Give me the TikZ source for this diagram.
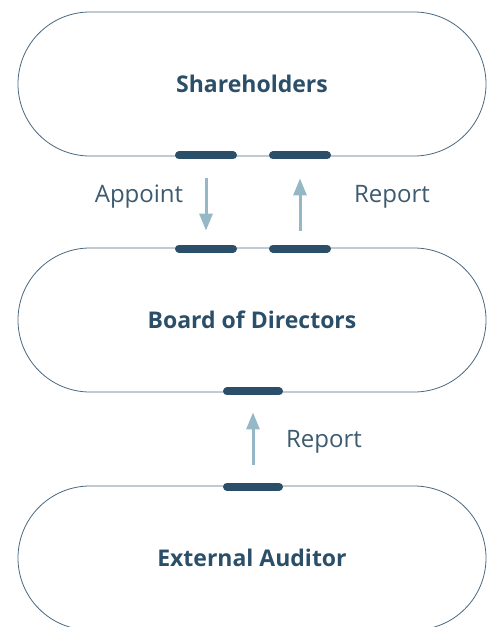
\documentclass[tikz,border=0pt]{standalone}
\usepackage{fontspec}
\setmainfont{Open Sans}
\usetikzlibrary{arrows.meta}
\definecolor{ink}{HTML}{2B4F68}
\definecolor{rim}{HTML}{4A6880}
\definecolor{flow}{HTML}{94B8C6}
\definecolor{labelc}{HTML}{3D5A6E}
\tikzset{
  x=1pt, y=-1pt,
  party/.style={draw=rim, line width=0.8pt, rounded corners=72pt,
    minimum width=468pt, minimum height=144pt, inner sep=0pt,
    font=\fontsize{23}{27}\selectfont\bfseries, text=ink},
  port/.style={draw=ink, line width=8pt, line cap=round},
  flowarrow/.style={draw=flow, line width=3pt,
    -{Triangle[width=13pt,length=17pt]}},
  flowlabel/.style={font=\fontsize{24}{28}\selectfont, text=labelc, inner sep=0pt}
}
\begin{document}
\begin{tikzpicture}
\useasboundingbox (0,0) rectangle (487,627);
% the three parties
\node[party] (sh)  at (252,84)  {Shareholders};
\node[party] (bod) at (252,320) {Board of Directors};
\node[party] (aud) at (252,558) {External Auditor};

% connection ports on the borders
\draw[port] ([xshift=-73pt,yshift=1pt]sh.south)  -- ([xshift=-19pt,yshift=1pt]sh.south);
\draw[port] ([xshift=21pt,yshift=1pt]sh.south)   -- ([xshift=75pt,yshift=1pt]sh.south);
\draw[port] ([xshift=-73pt,yshift=-1pt]bod.north) -- ([xshift=-19pt,yshift=-1pt]bod.north);
\draw[port] ([xshift=21pt,yshift=-1pt]bod.north)  -- ([xshift=75pt,yshift=-1pt]bod.north);
\draw[port] ([xshift=-25pt,yshift=1pt]bod.south) -- ([xshift=27pt,yshift=1pt]bod.south);
\draw[port] ([xshift=-25pt,yshift=-1pt]aud.north) -- ([xshift=27pt,yshift=-1pt]aud.north);

% reporting lines
\draw[flowarrow] ([xshift=-46pt,yshift=-22pt]sh.south) -- ([xshift=-46pt,yshift=17pt]bod.north);
\draw[flowarrow] ([xshift=48pt,yshift=17pt]bod.north) -- ([xshift=48pt,yshift=-22pt]sh.south);
\draw[flowarrow] ([xshift=1pt,yshift=21pt]aud.north) -- ([xshift=1pt,yshift=-20pt]bod.south);

\node[flowlabel] (appoint) at (139,197) {Appoint};
\node[flowlabel] (rep1) at (392,197) {Report};
\node[flowlabel] (rep2) at (324,442) {Report};
\end{tikzpicture}
\end{document}
